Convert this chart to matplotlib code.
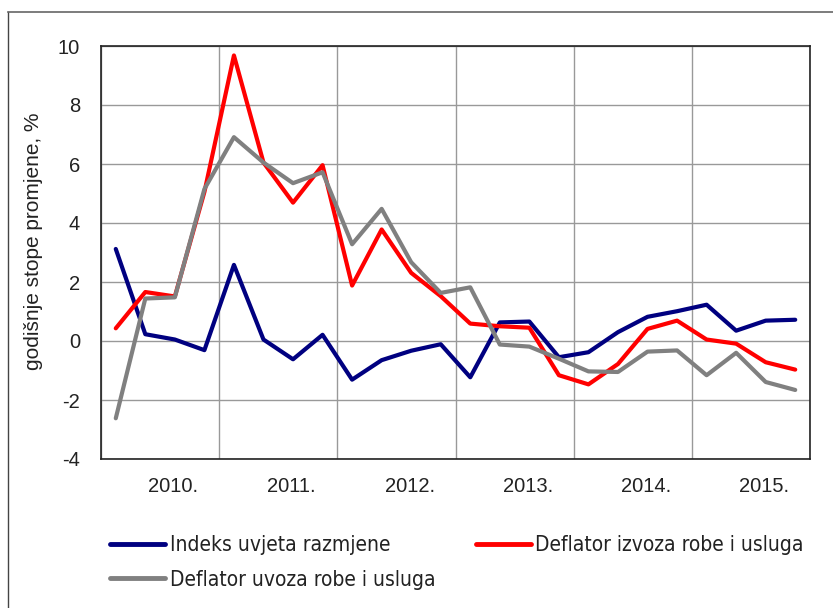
import numpy as np
import matplotlib
matplotlib.use("Agg")
import matplotlib.pyplot as plt
from matplotlib.lines import Line2D
from matplotlib.font_manager import FontProperties

# quarterly data 2010Q1 - 2015Q4
years = ["2010.", "2011.", "2012.", "2013.", "2014.", "2015."]
indeks = [3.12, 0.23, 0.05, -0.31, 2.58, 0.05, -0.62, 0.21,
          -1.31, -0.65, -0.33, -0.11, -1.23, 0.63, 0.66, -0.55,
          -0.38, 0.30, 0.82, 1.01, 1.23, 0.35, 0.69, 0.72]
deflator_izvoz = [0.43, 1.66, 1.51, 5.05, 9.68, 6.05, 4.69, 5.96,
                  1.88, 3.78, 2.31, 1.52, 0.59, 0.50, 0.45, -1.16,
                  -1.47, -0.78, 0.41, 0.69, 0.05, -0.09, -0.72, -0.97]
deflator_uvoz = [-2.62, 1.44, 1.48, 5.15, 6.91, 6.05, 5.35, 5.72,
                 3.28, 4.48, 2.67, 1.63, 1.82, -0.12, -0.19, -0.60,
                 -1.03, -1.05, -0.36, -0.32, -1.16, -0.40, -1.39, -1.66]
labels = ["Indeks uvjeta razmjene", "Deflator izvoza robe i usluga",
          "Deflator uvoza robe i usluga"]
colors = ["#000080", "#ff0000", "#808080"]

plt.rcParams['font.family'] = ['Liberation Sans', 'DejaVu Sans']
plt.rcParams['axes.unicode_minus'] = False

fig = plt.figure(figsize=(8.33, 6.08), dpi=100)
ax = fig.add_axes([101/833, 1-459/608, 709/833, 413/608])

x = np.arange(len(indeks)) + 0.5
for series, c in zip([indeks, deflator_izvoz, deflator_uvoz], colors):
    ax.plot(x, series, color=c, lw=3.0, solid_capstyle='round', solid_joinstyle='round')

ax.set_xlim(0, 24)
ax.set_ylim(-4, 10)
ax.set_yticks(np.arange(-4, 11, 2))
ax.set_xticks(np.arange(0, 25, 4))
ax.set_xticklabels([])
# year labels sit a bit right of the year centre, as in the original
ax.set_xticks(np.arange(2, 24, 4) + 0.45, minor=True)
ax.set_xticklabels(years, minor=True)
ax.tick_params(axis='x', which='both', length=0, labelsize=14.5, pad=13, colors='#222222')
ax.tick_params(axis='y', length=0, labelsize=14.5, pad=15, colors='#222222')
ax.grid(True, which='major', color='#999999', lw=1.0)
for s in ax.spines.values():
    s.set_color('#222222')
    s.set_linewidth(1.2)
ax.set_ylabel("godišnje stope promjene, %", fontsize=15, color='#222222')
ax.yaxis.set_label_coords(-0.082, 0.528)

# legend below the chart (column-major fill: indeks, uvoz | izvoz)
order = [0, 2, 1]
handles = [Line2D([], [], color=colors[i], lw=3.5, solid_capstyle='round') for i in order]
leg_font = FontProperties(family=['DejaVu Sans'], stretch='condensed', size=15)
leg = fig.legend(handles, [labels[i] for i in order], loc='upper left',
                 bbox_to_anchor=(110/833, 1-535/608), borderpad=0, borderaxespad=0,
                 ncol=2, frameon=False, prop=leg_font, handlelength=2.64,
                 handletextpad=0.22, columnspacing=1.95, labelspacing=0.7)
for t in leg.get_texts():
    t.set_color('#222222')

# outer frame of the chart
fig.add_artist(Line2D([8/833, 8/833], [0, 1-12/608], color='#444444', lw=1.0))
fig.add_artist(Line2D([8/833, 1], [1-12/608, 1-12/608], color='#666666', lw=1.2))

fig.savefig("out.png", dpi=100)
